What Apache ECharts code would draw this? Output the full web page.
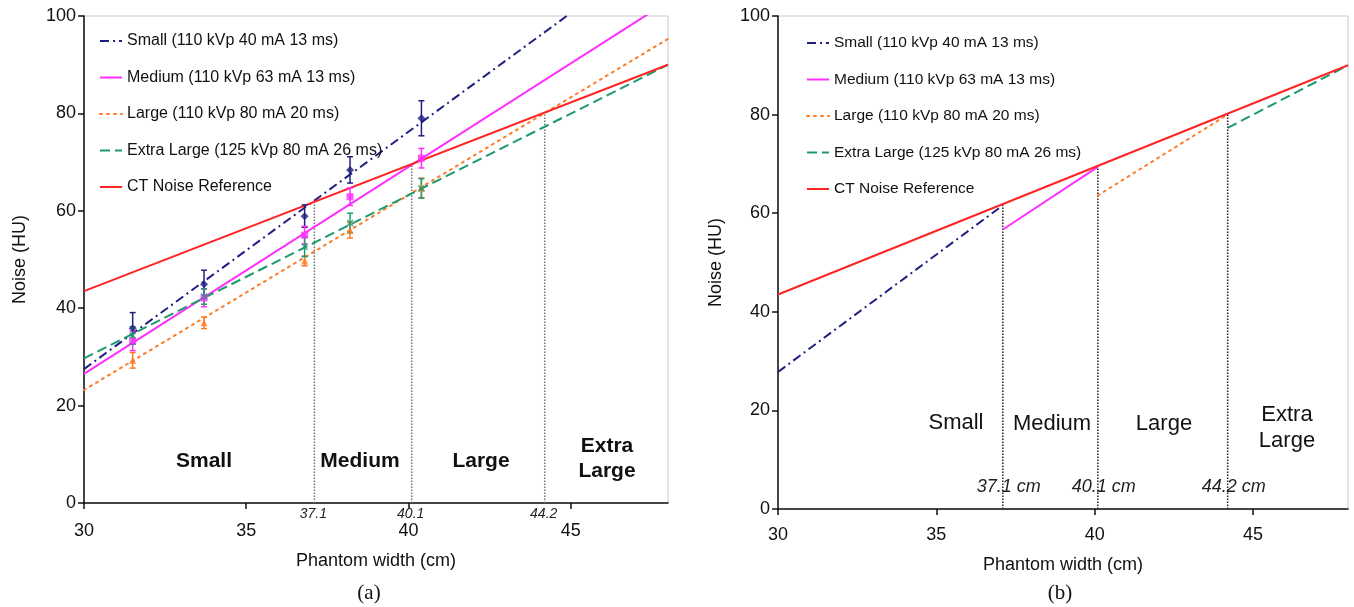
<!DOCTYPE html>
<html lang="en">
<head>
  <meta charset="UTF-8">
  <title>Noise vs phantom width</title>
  <style>
    html,
    body {
      padding: 0;
      margin: 0;
      background: #fff;
    }
  </style>
  <script src="https://cdn.jsdelivr.net/npm/echarts@6.0.0/dist/echarts.min.js"></script>
</head>
<body>
  <div id="demo" style="width:1354px;height:607px"></div>
  <script>
    // legend names
    const names = [
      'Small (110 kVp 40 mA 13 ms)',
      'Medium (110 kVp 63 mA 13 ms)',
      'Large (110 kVp 80 mA 20 ms)',
      'Extra Large (125 kVp 80 mA 26 ms)',
      'CT Noise Reference'
    ]
    const regionNames = ['Small', 'Medium', 'Large', 'Extra\nLarge']

    // measured points (panel a)
    const widths = [31.5, 33.7, 36.8, 38.2, 40.4]
    const smallPts = [35.9, 44.9, 58.9, 68.4, 79.0]
    const smallErr = [3.2, 2.9, 2.3, 2.7, 3.6]
    const mediumPts = [33.3, 42.1, 55.0, 62.9, 70.8]
    const mediumErr = [2.0, 1.8, 1.8, 1.8, 2.0]
    const largePts = [29.3, 37.0, 49.7, 56.0, 64.7]
    const largeErr = [1.6, 1.2, 1.0, 1.6, 2.0]
    const xlPts = [34.4, 42.4, 52.6, 57.5, 64.6]
    const xlErr = [1.8, 1.6, 2.0, 2.0, 2.0]

    // fitted lines, value at 30 cm and 48 cm
    const fitX = [30, 48]
    const smallFit = [27.5, 115.2]
    const mediumFit = [26.5, 103.0]
    const largeFit = [23.2, 95.3]
    const xlFit = [29.7, 90.0]
    const refFit = [43.5, 90.0]

    // size cut-offs and reference noise there
    const cutX = [37.1, 40.1, 44.2]
    const cutTop = [61.6, 69.4, 80.0]

    // panel b segments
    const smallSeg = [[30, 27.8], [37.1, 61.6]]
    const mediumSeg = [[37.1, 56.7], [40.1, 69.4]]
    const largeSeg = [[40.1, 63.6], [44.2, 80.0]]
    const xlSeg = [[44.2, 77.3], [48, 90.0]]

    const FONT = 'Liberation Sans, Arial, sans-serif'
    const colors = ['#1f1f80', '#ff2eff', '#ff7b25', '#1c9a6e', '#ff2424']
    const dashes = [[9, 4, 2, 4], 'solid', [2, 5], [10, 5], 'solid']

    const chart = echarts.init(document.getElementById('demo'))

    const fitLine = (ys) => fitX.map((x, i) => [x, ys[i]])

    function lineSeries (i, data, gi) {
      return {
        type: 'line',
        name: names[i],
        xAxisIndex: gi,
        yAxisIndex: gi,
        data: data,
        symbol: 'none',
        z: 3,
        silent: true,
        lineStyle: {
          color: colors[i],
          width: 2,
          type: dashes[i],
          cap: i === 2 ? 'round' : 'butt'
        },
        itemStyle: { color: colors[i] }
      }
    }

    function errSeries (i, pts, err) {
      return {
        type: 'custom',
        name: 'err' + i,
        xAxisIndex: 0,
        yAxisIndex: 0,
        z: 4,
        silent: true,
        data: widths.map((w, k) => [w, pts[k], err[k]]),
        renderItem: function (params, api) {
          const x = api.value(0)
          const y = api.value(1)
          const e = api.value(2)
          const t = api.coord([x, y + e])
          const b = api.coord([x, y - e])
          const st = { stroke: colors[i], lineWidth: 1.5 }
          return {
            type: 'group',
            children: [
              { type: 'line', shape: { x1: t[0], y1: t[1], x2: b[0], y2: b[1] }, style: st },
              { type: 'line', shape: { x1: t[0] - 3, y1: t[1], x2: t[0] + 3, y2: t[1] }, style: st },
              { type: 'line', shape: { x1: b[0] - 3, y1: b[1], x2: b[0] + 3, y2: b[1] }, style: st }
            ]
          }
        }
      }
    }

    function markerSeries (i, pts, symbol, size) {
      const s = {
        type: 'scatter',
        name: 'pts' + i,
        xAxisIndex: 0,
        yAxisIndex: 0,
        z: 5,
        silent: true,
        symbol: symbol,
        symbolSize: size,
        data: widths.map((w, k) => [w, pts[k]]),
        itemStyle: { color: colors[i] }
      }
      if (i === 3) {
        s.itemStyle = { color: 'none', borderColor: colors[i], borderWidth: 1.5 }
      }
      return s
    }

    function cutSeries (gi) {
      return {
        type: 'custom',
        name: 'cut' + gi,
        xAxisIndex: gi,
        yAxisIndex: gi,
        z: 2,
        silent: true,
        data: cutX.map((x, k) => [x, cutTop[k]]),
        renderItem: function (params, api) {
          const x = api.value(0)
          const p0 = api.coord([x, 0])
          const p1 = api.coord([x, api.value(1)])
          const txt = gi === 0
            ? { type: 'text', x: p0[0] - 1, y: p0[1] + 4, style: { text: String(x), fill: '#222', font: 'italic 14px ' + FONT, align: 'center', verticalAlign: 'top' } }
            : { type: 'text', x: p0[0] + 6, y: p0[1] - 22, style: { text: x + ' cm', fill: '#222', font: 'italic 18px ' + FONT, align: 'center', verticalAlign: 'middle' } }
          return {
            type: 'group',
            children: [
              {
                type: 'line',
                shape: { x1: p0[0], y1: p0[1], x2: p1[0], y2: p1[1] },
                style: { stroke: gi === 0 ? '#777' : '#222', lineWidth: 1.5, lineDash: [1.5, 1.5] }
              },
              txt
            ]
          }
        }
      }
    }

    function xAxis (gi) {
      return {
        type: 'value',
        gridIndex: gi,
        min: 30,
        max: 48,
        interval: 5,
        name: 'Phantom width (cm)',
        nameLocation: 'middle',
        nameGap: gi === 0 ? 49 : 47,
        nameTextStyle: { fontSize: 18, color: '#111', fontFamily: FONT },
        axisLine: { lineStyle: { color: '#111', width: 1.5 } },
        axisTick: { length: 6, lineStyle: { color: '#111', width: 1.5 } },
        axisLabel: { fontSize: 18, color: '#111', fontFamily: FONT, margin: gi === 0 ? 19 : 17, showMaxLabel: false },
        splitLine: { show: false }
      }
    }

    function yAxis (gi) {
      return {
        type: 'value',
        gridIndex: gi,
        min: 0,
        max: 100,
        interval: 20,
        name: 'Noise (HU)',
        nameLocation: 'middle',
        nameGap: gi === 0 ? 55 : 53,
        nameTextStyle: { fontSize: 18, color: '#111', fontFamily: FONT },
        axisLine: { show: true, lineStyle: { color: '#111', width: 1.5 } },
        axisTick: { show: true, length: 6, lineStyle: { color: '#111', width: 1.5 } },
        axisLabel: { fontSize: 18, color: '#111', fontFamily: FONT, margin: 8 },
        splitLine: { show: false }
      }
    }

    function legend (left, top, size) {
      return {
        orient: 'vertical',
        left: left,
        top: top,
        itemWidth: 22,
        itemHeight: 14,
        itemGap: 20.5,
        selectedMode: false,
        data: names,
        itemStyle: { color: 'rgba(0,0,0,0)', borderColor: 'rgba(0,0,0,0)', borderWidth: 0 },
        textStyle: { fontSize: size, color: '#111', fontFamily: FONT }
      }
    }

    function regionText (x, y, text, bold, size) {
      return {
        type: 'text',
        x: x,
        y: y,
        style: {
          text: text,
          fill: '#111',
          font: (bold ? 'bold ' : '') + size + 'px ' + FONT,
          align: 'center',
          verticalAlign: 'middle',
          lineHeight: size + 4
        }
      }
    }

    const option = {
      animation: false,
      grid: [
        { left: 84, top: 16, width: 584, height: 487, show: true, borderColor: '#c8c8c8', borderWidth: 1 },
        { left: 778, top: 16, width: 570, height: 493, show: true, borderColor: '#c8c8c8', borderWidth: 1 }
      ],
      xAxis: [xAxis(0), xAxis(1)],
      yAxis: [yAxis(0), yAxis(1)],
      legend: [legend(94, 28, 16), legend(801, 30, 15.5)],
      graphic: [
        regionText(204, 461, regionNames[0], true, 21),
        regionText(360, 461, regionNames[1], true, 21),
        regionText(481, 461, regionNames[2], true, 21),
        regionText(607, 459, regionNames[3], true, 21),
        regionText(956, 423, regionNames[0], false, 22),
        regionText(1052, 424, regionNames[1], false, 22),
        regionText(1164, 424, regionNames[2], false, 22),
        regionText(1287, 428, regionNames[3], false, 22),
        { type: 'text', x: 369, y: 593, style: { text: '(a)', fill: '#111', font: '21px Liberation Serif, Times New Roman, serif', align: 'center', verticalAlign: 'middle' } },
        { type: 'text', x: 1060, y: 593, style: { text: '(b)', fill: '#111', font: '21px Liberation Serif, Times New Roman, serif', align: 'center', verticalAlign: 'middle' } }
      ],
      series: [
        cutSeries(0),
        lineSeries(0, fitLine(smallFit), 0),
        lineSeries(1, fitLine(mediumFit), 0),
        lineSeries(2, fitLine(largeFit), 0),
        lineSeries(3, fitLine(xlFit), 0),
        lineSeries(4, fitLine(refFit), 0),
        errSeries(0, smallPts, smallErr),
        errSeries(1, mediumPts, mediumErr),
        errSeries(2, largePts, largeErr),
        errSeries(3, xlPts, xlErr),
        markerSeries(0, smallPts, 'diamond', 8),
        markerSeries(1, mediumPts, 'rect', 7),
        markerSeries(2, largePts, 'triangle', 7),
        markerSeries(3, xlPts, 'path://M0,0L10,10M10,0L0,10', 6),
        cutSeries(1),
        lineSeries(0, smallSeg, 1),
        lineSeries(1, mediumSeg, 1),
        lineSeries(2, largeSeg, 1),
        lineSeries(3, xlSeg, 1),
        lineSeries(4, fitLine(refFit), 1)
      ]
    }
    chart.setOption(option)
  </script>
</body>
</html>
